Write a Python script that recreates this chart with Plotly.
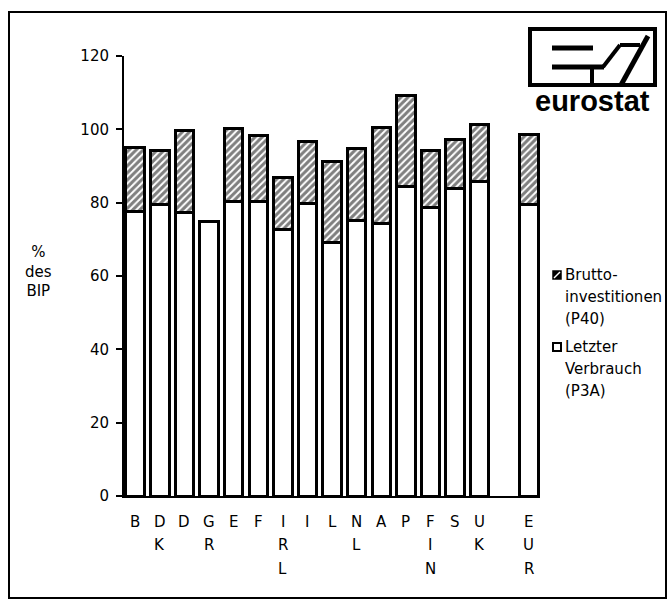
import plotly.graph_objects as go

# ---- data ----
categories = ["B", "DK", "D", "GR", "E", "F", "IRL", "I", "L", "NL", "A", "P", "FIN", "S", "UK", " ", "EUR"]
countries = ["B", "DK", "D", "GR", "E", "F", "IRL", "I", "L", "NL", "A", "P", "FIN", "S", "UK", "EUR"]
verbrauch = [77.7, 79.6, 77.3, 74.8, 80.3, 80.3, 72.7, 79.8, 69.2, 75.1, 74.4, 84.5, 78.8, 83.9, 85.9, 79.6]
investitionen = [17.3, 14.7, 22.5, 0.0, 20.0, 17.9, 14.1, 16.8, 21.9, 19.8, 26.1, 24.6, 15.5, 13.2, 15.5, 19.0]
y_ticks = [0, 20, 40, 60, 80, 100, 120]
y_title = "%<br>des<br>BIP"
legend_invest = ["Brutto-", "investitionen", "(P40)"]
legend_verbrauch = ["Letzter", "Verbrauch", "(P3A)"]
logo_text = "eurostat"

FONT = "DejaVu Sans"
W, H = 671, 605
L, R, T, B = 124, 131, 56, 109

def px_x(p):
    return (p - L) / (W - L - R)

def px_y(p):
    return (H - B - p) / (H - T - B)

fig = go.Figure()
fig.add_trace(go.Bar(
    x=countries, y=verbrauch, name="Letzter Verbrauch (P3A)",
    marker=dict(color="white", line=dict(color="black", width=3)),
    width=0.75,
))
fig.add_trace(go.Bar(
    x=countries, y=investitionen, name="Bruttoinvestitionen (P40)",
    marker=dict(color="white", line=dict(color="black", width=3),
                pattern=dict(shape="/", fgcolor="black", bgcolor="white", size=5, solidity=0.6)),
    width=0.75,
))

annotations = []
# stacked letter labels under the x axis
for c in countries:
    for j, ch in enumerate(c):
        annotations.append(dict(
            x=c, y=0, xref="x", yref="y", text=ch, showarrow=False,
            yshift=-25.5 - 23.5 * j, yanchor="middle", xanchor="center",
            font=dict(family=FONT, size=15, color="black"),
        ))

# y title
annotations.append(dict(
    x=px_x(38), y=px_y(271), xref="paper", yref="paper", text=y_title,
    showarrow=False, xanchor="center", yanchor="middle", align="center",
    font=dict(family=FONT, size=15, color="black"),
))

# legend texts
for lines, y0 in ((legend_invest, 275), (legend_verbrauch, 347)):
    for j, t in enumerate(lines):
        annotations.append(dict(
            x=px_x(563), y=px_y(y0 + 22 * j), xref="paper", yref="paper", text=t,
            showarrow=False, xanchor="left", yanchor="middle",
            font=dict(family=FONT, size=15, color="black"),
        ))

# logo text
annotations.append(dict(
    x=px_x(592), y=px_y(101), xref="paper", yref="paper", text="<b>" + logo_text + "</b>",
    showarrow=False, xanchor="center", yanchor="middle",
    font=dict(family="Liberation Sans", size=29, color="black"),
))

shapes = []
def line(x0, y0, x1, y1, w=2, color="black"):
    shapes.append(dict(type="line", xref="paper", yref="paper",
                       x0=px_x(x0), y0=px_y(y0), x1=px_x(x1), y1=px_y(y1),
                       line=dict(color=color, width=w)))

def rect(x0, y0, x1, y1, w=2, fill="rgba(0,0,0,0)"):
    shapes.append(dict(type="rect", xref="paper", yref="paper",
                       x0=px_x(x0), y0=px_y(y0), x1=px_x(x1), y1=px_y(y1),
                       line=dict(color="black", width=w), fillcolor=fill))

# outer frame
rect(9, 12, 666, 598, w=2)
# logo box
rect(530, 29, 655, 85, w=4)
line(552, 48, 593, 48, w=5)
line(552, 67, 604, 67, w=5)
line(592, 67, 592, 85, w=4)
line(603, 67, 620, 45, w=4)
line(620, 45, 640, 45, w=4)
line(621, 85, 648, 36, w=5)
# legend boxes
rect(553, 271, 561, 279, w=1.5, fill="black")
line(554, 278, 560, 272, w=1.5, color="white")
rect(553, 343, 561, 351, w=2, fill="white")

fig.update_layout(
    width=W, height=H,
    margin=dict(l=L, r=R, t=T, b=B, autoexpand=False),
    barmode="stack", showlegend=False,
    plot_bgcolor="white", paper_bgcolor="white",
    font=dict(family=FONT, size=15, color="black"),
    annotations=annotations, shapes=shapes,
    xaxis=dict(
        type="category", categoryorder="array", categoryarray=categories,
        range=[-0.455, 16.45], showticklabels=False, ticks="",
        showline=True, linecolor="black", linewidth=2, showgrid=False, zeroline=False,
    ),
    yaxis=dict(
        range=[0, 120], tickvals=y_ticks, ticks="outside", ticklen=6, tickwidth=2,
        tickcolor="black", showline=True, linecolor="black", linewidth=2,
        showgrid=False, zeroline=False, ticklabelstandoff=4,
        tickfont=dict(family=FONT, size=15, color="black"),
    ),
)

fig.write_html("out.html", config={"displayModeBar": False},
               post_script="document.body.style.margin='0';document.body.style.overflow='hidden';")
